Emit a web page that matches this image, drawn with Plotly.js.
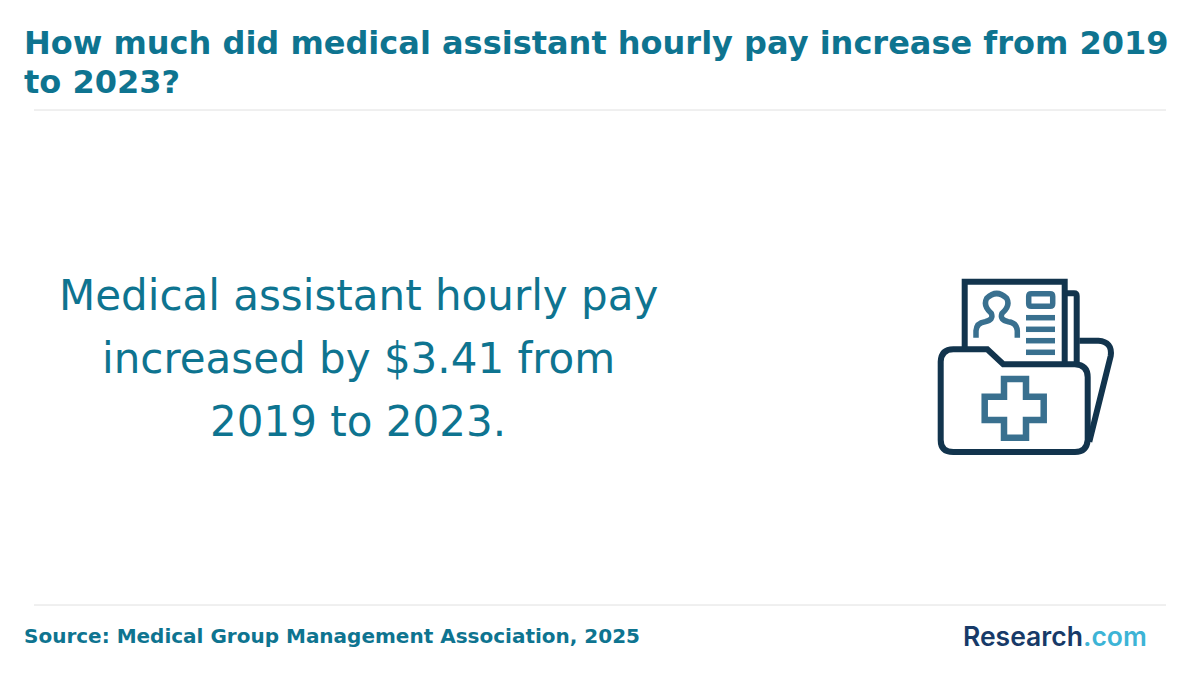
<!DOCTYPE html>
<html>
<head>
<meta charset="utf-8">
<script src="https://cdn.plot.ly/plotly-3.0.1.min.js"></script>
<style>
  html, body { margin: 0; padding: 0; background: #ffffff; }
  #chart { width: 1200px; height: 680px; }
</style>
</head>
<body>
<div id="chart"></div>
<script>
// Texts of the card
const titleLines = ['How much did medical assistant hourly pay increase from 2019', 'to 2023?'];
const headlineLines = ['Medical assistant hourly pay', 'increased by $3.41 from', '2019 to 2023.'];
const sourceText = 'Source: Medical Group Management Association, 2025';
const logoParts = ['Research', '.com'];

const TEAL = '#0e7490';
const NAVY = '#12344d';
const STEEL = '#39708f';
const FONT = '"DejaVu Sans", sans-serif';

// The axes run in page pixels, so the card can be laid out like the picture
const px = (x, y) => `${(920 + x / 3).toFixed(1)},${(270 + y / 3).toFixed(1)}`;

function iconPath(segments) {
  return segments.map(([cmd, ...pts]) => cmd + pts.map(([x, y]) => px(x, y)).join(' ')).join(' ');
}

function stroke(path, color, width) {
  return { type: 'path', xref: 'x', yref: 'y', path, line: { color, width }, fillcolor: 'rgba(0,0,0,0)' };
}

function solid(path, color) {
  return { type: 'path', xref: 'x', yref: 'y', path, line: { width: 0 }, fillcolor: color };
}

function rule(y) {
  return { type: 'line', xref: 'x', yref: 'y', x0: 34, x1: 1166, y0: y, y1: y, line: { color: '#e0e0e0', width: 1 } };
}

function label(text, x, y, size, opts) {
  return Object.assign({
    xref: 'x', yref: 'y', x, y, text, showarrow: false,
    xanchor: 'left', yanchor: 'middle',
    font: { family: FONT, size, color: TEAL },
  }, opts);
}

// Folder icon
const docLines = [143, 178, 212, 247].map((y) => stroke(iconPath([['M', [318, y]], ['L', [405, y]]]), STEEL, 5.5));

const folderFront = iconPath([
  ['M', [62, 275]], ['Q', [64, 238], [100, 238]], ['L', [202, 238]], ['L', [250, 283]], ['L', [465, 283]],
  ['Q', [503, 285], [503, 322]], ['L', [503, 510]], ['Q', [500, 546], [465, 546]], ['L', [100, 546]],
  ['Q', [62, 546], [62, 510]], ['Z'],
]);

const icon = [
  // back of the folder
  stroke(iconPath([['M', [478, 212]], ['L', [535, 212]], ['Q', [578, 215], [572, 258]], ['L', [508, 515]]]), NAVY, 6),
  // second sheet
  stroke(iconPath([['M', [440, 70]], ['L', [462, 70]], ['Q', [470, 70], [470, 78]], ['L', [470, 278]]]), NAVY, 6),
  // first sheet
  stroke(iconPath([['M', [134, 235]], ['L', [134, 35]], ['L', [434, 35]], ['L', [434, 280]]]), NAVY, 6),
  // person
  stroke(iconPath([
    ['M', [168, 203]], ['L', [168, 182]], ['Q', [170, 158], [195, 155]], ['Q', [222, 150], [214, 130]],
    ['Q', [188, 108], [200, 85]], ['Q', [230, 56], [260, 85]], ['Q', [272, 108], [246, 130]],
    ['Q', [238, 150], [265, 155]], ['Q', [290, 158], [292, 182]], ['L', [292, 203]],
  ]), STEEL, 5.5),
  // photo box
  stroke(iconPath([['M', [334, 71]], ['L', [390, 71]], ['Q', [398, 71], [398, 79]], ['L', [398, 101]], ['Q', [398, 109], [390, 109]], ['L', [334, 109]], ['Q', [326, 109], [326, 101]], ['L', [326, 79]], ['Q', [326, 71], [334, 71]], ['Z']]), STEEL, 5.5),
  ...docLines,
  // folder front
  solid(folderFront, '#ffffff'),
  stroke(folderFront, NAVY, 6),
  // cross
  stroke(iconPath([
    ['M', [252, 327]], ['L', [318, 327]], ['L', [318, 380]], ['L', [371, 380]], ['L', [371, 450]], ['L', [318, 450]],
    ['L', [318, 503]], ['L', [252, 503]], ['L', [252, 450]], ['L', [194, 450]], ['L', [194, 380]], ['L', [252, 380]], ['Z'],
  ]), STEEL, 6.5),
];

const annotations = [
  ...titleLines.map((t, i) => label(`<b>${t}</b>`, 22, 43 + i * 38.5, 32)),
  ...headlineLines.map((t, i) => label(t, 358, 295 + i * 63, 42, { xanchor: 'center' })),
  label(`<b>${sourceText}</b>`, 22, 636, 20),
  label(`<span style="color:#173a68">${logoParts[0]}</span><span style="color:#3db4d6">${logoParts[1]}</span>`, 961, 636, 26.5,
    { font: { family: 'Inter, sans-serif', size: 26.5, weight: 600, color: '#173a68' } }),
];

const layout = {
  width: 1200,
  height: 680,
  margin: { t: 0, r: 0, b: 0, l: 0 },
  showlegend: false,
  paper_bgcolor: '#ffffff',
  plot_bgcolor: '#ffffff',
  xaxis: { range: [0, 1200], visible: false, fixedrange: true },
  yaxis: { range: [680, 0], visible: false, fixedrange: true },
  shapes: [rule(110), rule(605), ...icon],
  annotations,
};

Plotly.newPlot('chart', [], layout, { displayModeBar: false, responsive: false });
</script>
</body>
</html>
